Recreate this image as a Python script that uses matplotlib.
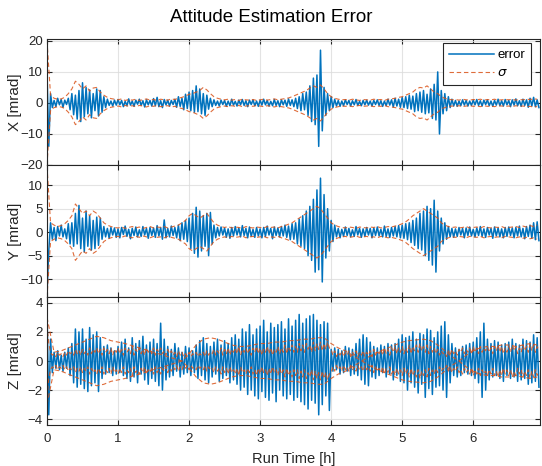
import numpy as np
import matplotlib
matplotlib.use("Agg")
import matplotlib.pyplot as plt

plt.rcParams['font.family'] = ['Liberation Sans', 'DejaVu Sans']

# ---------------- data (mrad) ----------------
dt_err = 0.025   # h, sample step of error series
dt_sig = 0.05    # h, sample step of sigma series (X, Y)
dt_zb = 0.1      # h, sample step of the slow Z sigma curve

x_err = [10, -14, 3, -1.5, 0.8, -1.2, 1.5, -0.6, 1.1, -1.4, 0.9, -0.5, 1.5, -2.2, 3.0, -3.8, 2.5, -5.2, 4.0, -6.0,
         6.5, -4.5, 5.0, -3.5, 4.2, -4.8, 3.0, -2.5, 4.5, -4.2, 4.0, -3.0, 2.0, -1.5, 1.2, -0.8, 0.6, -1.0, 0.9, -0.7,
         1.1, -0.6, 0.8, -1.2, 0.5, -0.9, 1.3, -0.7, 0.6, -1.1, 0.9, -0.4, 1.2, -0.8, 0.7, -1.3, 1.0, -0.6, 0.8, -1.0,
         1.4, -0.9, 1.8, -1.2, 0.7, -1.5, 1.1, -0.6, 0.9, -1.0, 0.8, -0.5, 1.2, -1.4, 2.0, -1.1, 1.5, -2.2, 2.8, -1.8,
         3.5, -2.5, 4.0, -3.0, 5.5, -2.8, 4.5, -3.5, 3.0, -4.0, 2.5, -2.0, 1.5, -1.2, 1.0, -0.8, 0.6, -1.0, 0.9, -0.5,
         0.8, -1.1, 0.6, -0.9, 1.2, -0.7, 0.5, -1.0, 0.9, -0.6, 1.1, -0.8, 0.7, -1.2, 0.9, -0.5, 1.0, -0.9, 0.6, -1.1,
         0.9, -0.7, 1.2, -0.6, 0.8, -1.0, 0.5, -0.9, 1.1, -0.8, 0.7, -1.2, 1.0, -0.6, 0.9, -1.1, 1.3, -0.8, 1.0, -1.2,
         1.5, -1.8, 2.0, -2.5, 3.0, -2.2, 3.5, -4.0, 5.5, -6.0, 8.0, -7.0, 9.0, -14, 17, -9.0, 5.0, -4.0, 3.0, -2.5,
         2.0, -1.5, 1.2, -1.0, 0.8, -1.1, 0.6, -0.9, 1.0, -0.5, 0.8, -1.0, 0.7, -0.6, 1.1, -0.8, 0.5, -0.9, 0.8, -0.6,
         0.9, -0.7, 0.6, -1.0, 0.8, -0.5, 1.0, -0.8, 0.7, -1.1, 0.6, -0.9, 1.2, -0.7, 1.0, -1.3, 1.5, -1.0, 1.2, -1.4,
         1.8, -1.5, 2.0, -1.8, 2.5, -2.0, 2.2, -2.8, 3.0, -2.5, 3.5, -3.0, 4.0, -3.5, 2.8, -3.2, 4.5, -5.0, 6.0, -5.5,
         10.0, -10.0, 4.0, -3.5, 3.0, -2.5, 2.0, -1.5, 1.2, -1.0, 0.8, -1.1, 0.6, -0.9, 1.0, -0.7, 0.8, -1.0, 0.6, -0.8,
         0.9, -0.6, 1.1, -0.8, 0.7, -1.0, 0.9, -0.5, 1.0, -0.9, 0.6, -1.1, 0.8, -0.7, 1.2, -0.9, 0.7, -1.0, 1.1, -0.6,
         0.8, -1.2, 1.0, -0.7, 1.3, -0.9, 0.7, -1.1, 1.2, -0.8, 1.0, -1.4, 1.5, -1.0, 1.8, -1.2, 1.0, -1.5]

x_sig = [20, 2.5, 1.5, 1.2, 1.3, 1.8, 3.0, 4.5, 7.0, 6.0,
         4.5, 5.5, 3.8, 4.8, 5.0, 3.5, 2.5, 1.8, 1.4, 1.2,
         1.0, 1.3, 0.8, 1.1, 0.9, 1.2, 0.8, 1.0, 1.3, 0.9,
         1.1, 0.8, 1.2, 1.0, 0.9, 1.3, 1.1, 1.5, 1.8, 2.2,
         2.8, 3.0, 3.5, 4.0, 5.0, 4.2, 3.0, 2.0, 1.5, 1.2,
         1.0, 1.2, 0.9, 1.1, 0.8, 1.2, 1.0, 0.9, 1.1, 0.8,
         1.0, 1.2, 0.9, 1.1, 1.3, 1.0, 1.2, 1.4, 1.6, 2.0,
         2.5, 3.0, 3.5, 4.0, 4.8, 5.5, 5.0, 5.8, 4.5, 3.0,
         2.0, 1.5, 1.2, 1.0, 1.1, 0.9, 1.2, 1.0, 0.8, 1.1,
         1.0, 0.9, 1.2, 1.0, 1.1, 0.8, 1.2, 1.3, 1.5, 1.8,
         2.0, 2.5, 3.0, 3.5, 4.5, 5.0, 4.8, 5.5, 4.5, 3.5,
         3.0, 2.0, 1.5, 1.2, 1.0, 1.1, 0.9, 1.2, 1.0, 0.9,
         1.1, 1.0, 1.2, 0.9, 1.1, 1.0, 1.2, 0.9, 1.0, 1.1,
         1.0, 1.2, 0.9, 1.1, 1.0, 1.2, 1.1, 1.3, 1.2]

y_err = [-13, -4, 2.0, -1.5, 1.0, -1.8, 1.2, -0.8, 1.5, -1.0, 0.7, -1.4, 1.8, -2.5, 2.0, -3.0, 4.0, -2.5, 5.7, -3.5,
         3.0, -4.2, 4.5, -3.0, 3.5, -3.8, 2.5, -3.5, 3.2, -2.8, 3.0, -1.5, 1.2, -1.0, 0.8, -1.3, 1.0, -0.6, 0.9, -1.1,
         0.7, -1.2, 1.0, -0.5, 1.3, -0.9, 0.6, -1.4, 0.8, -0.7, 1.1, -1.0, 0.5, -0.9, 1.2, -0.6, 0.8, -1.3, 1.0, -0.7,
         0.9, -1.1, 1.4, -0.8, 1.0, -1.5, 2.6, -1.2, 0.8, -1.0, 1.3, -0.7, 1.0, -1.2, 1.5, -1.8, 2.0, -1.5, 2.5, -2.0,
         3.0, -3.5, 4.0, -4.5, 5.3, -5.3, 4.5, -4.0, 3.5, -3.0, 4.0, -5.0, 4.2, -2.5, 1.5, -1.2, 1.0, -0.8, 1.1, -0.6,
         0.9, -1.1, 0.7, -1.3, 1.0, -0.8, 1.2, -0.6, 0.9, -1.0, 1.4, -0.7, 0.8, -1.2, 1.1, -0.9, 0.6, -1.1, 1.0, -0.8,
         0.7, -1.2, 1.0, -0.9, 1.3, -0.6, 0.8, -1.4, 1.1, -0.7, 0.9, -1.0, 1.2, -0.8, 1.5, -1.1, 1.3, -1.6, 1.8, -1.5,
         2.0, -2.5, 2.8, -3.0, 3.5, -3.5, 4.5, -5.0, 5.5, -6.0, 7.0, -8.5, 9.0, -8.0, 11.5, -10.6, 8.0, -5.5, 5.0, -4.0,
         2.5, -2.0, 1.5, -1.0, 0.8, -1.2, 0.6, -0.9, 1.1, -0.7, 0.8, -1.0, 0.5, -0.9, 1.2, -0.6, 0.8, -1.1, 0.7, -0.9,
         1.0, -0.6, 0.8, -1.2, 0.9, -0.7, 1.1, -0.8, 0.6, -1.0, 1.3, -0.9, 0.7, -1.1, 1.0, -0.8, 1.2, -1.0, 1.4, -1.2,
         1.5, -1.3, 1.8, -1.6, 2.0, -2.2, 2.5, -2.8, 3.0, -3.5, 4.0, -3.8, 4.5, -5.0, 5.5, -6.0, 5.0, -7.0, 6.8, -8.5,
         4.5, -4.0, 3.0, -2.5, 2.0, -1.5, 1.2, -1.0, 0.8, -1.1, 0.7, -0.9, 1.0, -0.6, 0.8, -1.2, 0.9, -0.7, 1.1, -0.8,
         0.6, -1.0, 0.9, -0.7, 1.2, -0.9, 0.7, -1.1, 1.0, -0.6, 0.8, -1.3, 1.1, -0.8, 0.9, -1.0, 0.7, -1.2, 1.0, -0.9,
         1.1, -0.7, 0.9, -1.2, 1.0, -0.8, 1.3, -1.0, 0.8, -1.4, 1.2, -0.9, 1.5, -1.3, 2.0, -1.6, 2.2, -1.8]

y_sig = [14, 2.0, 1.5, 1.2, 1.4, 1.8, 2.5, 3.5, 6.0, 5.0,
         4.0, 4.5, 3.5, 4.5, 4.0, 3.0, 2.0, 1.5, 1.2, 1.0,
         0.9, 1.1, 0.8, 1.0, 1.2, 0.9, 1.1, 0.8, 1.0, 1.2,
         0.9, 1.1, 1.0, 1.2, 0.9, 1.1, 1.3, 1.5, 2.0, 2.5,
         3.5, 4.0, 3.5, 3.0, 3.5, 4.0, 3.0, 2.0, 1.5, 1.2,
         1.0, 1.2, 0.9, 1.1, 1.0, 0.8, 1.2, 1.0, 0.9, 1.1,
         1.0, 0.9, 1.2, 1.0, 1.1, 0.9, 1.2, 1.4, 1.7, 2.0,
         2.5, 3.0, 3.5, 4.0, 4.5, 5.0, 5.5, 5.0, 4.0, 3.0,
         2.0, 1.5, 1.2, 1.0, 0.9, 1.1, 1.0, 0.8, 1.1, 1.0,
         0.9, 1.1, 1.0, 1.2, 0.9, 1.0, 1.2, 1.1, 1.3, 1.5,
         1.8, 2.2, 2.8, 3.5, 4.0, 4.5, 5.0, 4.5, 4.0, 3.5,
         3.0, 2.0, 1.5, 1.2, 1.0, 1.1, 0.9, 1.0, 1.2, 0.9,
         1.0, 1.1, 0.9, 1.2, 1.0, 0.9, 1.1, 1.0, 1.2, 0.9,
         1.0, 1.1, 1.2, 1.0, 1.3, 1.1, 1.4, 1.2, 1.5]

z_err = [3.5, -3.7, 1.5, -0.8, 0.6, -0.5, 0.7, -0.6, 0.4, -0.7, 0.6, -0.5, 0.9, -1.0, 1.2, -1.5, 2.2, -1.8, 2.0, -1.6,
         2.2, -1.9, 1.5, -2.1, 2.3, -1.7, 1.8, -1.5, 2.0, -2.1, 1.6, -1.2, 1.0, -0.9, 1.1, -0.8, 0.9, -1.0, 0.7, -0.9,
         1.0, -0.8, 1.3, -1.0, 1.5, -1.2, 0.9, -1.4, 1.6, -1.1, 1.2, -1.5, 1.4, -0.9, 1.7, -1.3, 1.1, -1.6, 1.3, -1.2,
         1.5, -1.4, 1.2, -1.7, 2.6, -2.0, 1.5, -1.3, 1.0, -1.1, 0.8, -1.0, 1.2, -0.7, 0.9, -1.1, 0.6, -0.9, 1.0, -0.8,
         0.9, -1.0, 0.7, -0.8, 1.1, -1.2, 1.4, -1.0, 1.6, -1.3, 1.2, -1.5, 1.0, -1.1, 1.3, -0.9, 1.5, -1.4, 1.1, -1.2,
         1.4, -1.0, 1.2, -1.5, 1.6, -1.3, 1.8, -1.6, 1.5, -2.0, 2.2, -1.8, 2.0, -2.3, 2.5, -2.0, 1.8, -2.4, 2.2, -2.6,
         2.4, -2.1, 2.8, -2.5, 2.0, -2.7, 2.6, -2.2, 2.3, -2.8, 2.5, -2.0, 2.7, -2.4, 2.2, -2.6, 2.9, -2.3, 2.4, -2.7,
         2.8, -2.5, 3.2, -2.8, 2.6, -3.0, 2.9, -3.3, 3.1, -2.7, 3.2, -2.9, 2.8, -3.7, 2.5, -3.0, 2.7, -2.4, 2.6, -3.4,
         0.8, -0.7, 0.9, -0.6, 0.8, -0.9, 0.7, -0.8, 1.0, -0.7, 0.9, -1.0, 0.8, -0.9, 1.2, -1.0, 1.5, -1.3, 1.8, -1.6,
         1.6, -1.7, 1.3, -1.1, 1.0, -1.2, 0.9, -1.0, 1.1, -0.8, 1.0, -1.1, 1.2, -0.9, 1.1, -1.3, 1.2, -1.0, 1.5, -1.4,
         1.8, -1.5, 1.6, -2.0, 1.7, -1.5, 2.0, -1.8, 1.5, -2.2, 1.9, -1.6, 1.8, -2.5, 2.2, -1.9, 2.1, -2.3, 1.6, -1.8,
         2.0, -1.7, 2.4, -2.0, 2.7, -2.5, 1.8, -1.5, 1.2, -1.0, 0.9, -1.1, 0.8, -1.0, 1.0, -0.8, 1.1, -0.9, 1.2, -1.0,
         1.3, -1.2, 1.6, -1.5, 2.0, -2.5, 2.6, -2.0, 1.5, -1.3, 1.2, -1.1, 1.4, -1.0, 1.3, -1.2, 1.1, -1.4, 1.2, -1.0,
         1.3, -1.2, 1.5, -1.1, 1.2, -1.4, 1.1, -1.3, 1.5, -1.2, 1.4, -1.6, 1.3, -1.5, 1.8, -1.4, 1.6, -1.8]

# fast, jittery Z sigma band (plotted as +/-)
z_sig_fast = [2.5, 1.2, 0.6, 0.4, 0.5, 0.3, 0.6, 0.4, 0.5, 0.3, 0.6, 0.4, 0.7, 0.5, 0.6, 0.4, 0.8, 0.5, 0.7, 0.4,
              0.8, 0.5, 0.7, 0.4, 0.9, 0.5, 0.8, 0.6, 0.9, 0.5, 0.8, 0.4, 0.9, 0.6, 0.8, 0.5, 0.9, 0.4, 0.8, 0.6,
              0.9, 0.5, 0.8, 0.4, 0.9, 0.6, 0.8, 0.5, 1.0, 0.4, 0.8, 0.6, 0.9, 0.5, 0.8, 0.4, 0.9, 0.6, 0.8, 0.5,
              0.9, 0.4, 0.8, 0.6, 0.9, 0.5, 0.7, 0.4, 0.8, 0.5, 0.7, 0.4, 0.6, 0.3, 0.7, 0.4, 0.6, 0.3, 0.5, 0.3,
              0.6, 0.3, 0.5, 0.4, 0.6, 0.3, 0.5, 0.4, 0.6, 0.3, 0.7, 0.4, 0.6, 0.5, 0.8, 0.4, 0.7, 0.5, 0.9, 0.4,
              0.8, 0.5, 0.9, 0.4, 0.8, 0.6, 0.9, 0.5, 1.0, 0.4, 0.8, 0.6, 0.9, 0.5, 0.8, 0.4, 0.9, 0.6, 1.0, 0.5,
              0.9, 0.4, 0.8, 0.6, 1.0, 0.5, 0.9, 0.4, 0.8, 0.6, 1.0, 0.5, 0.9, 0.6, 1.1, 0.5, 1.0, 0.7, 1.1, 0.6,
              1.0, 0.6, 1.2, 0.7, 1.1, 0.6, 1.2, 0.8, 1.1, 0.6, 1.3, 0.7, 1.2, 0.8, 1.3, 0.7, 1.2, 0.8, 1.3, 0.9,
              0.8, 0.4, 0.7, 0.3, 0.6, 0.4, 0.7, 0.3, 0.6, 0.4, 0.7, 0.3, 0.6, 0.4, 0.7, 0.3, 0.6, 0.4, 0.7, 0.3,
              0.6, 0.4, 0.7, 0.3, 0.8, 0.4, 0.7, 0.5, 0.8, 0.4, 0.9, 0.5, 0.8, 0.4, 0.9, 0.6, 1.0, 0.5, 0.9, 0.6,
              1.0, 0.5, 0.9, 0.6, 1.1, 0.5, 1.0, 0.7, 1.1, 0.6, 1.2, 0.7, 1.0, 0.6, 1.1, 0.5, 1.0, 0.6, 0.9, 0.5,
              0.8, 0.4, 0.7, 0.5, 0.6, 0.3, 0.7, 0.4, 0.8, 0.5, 0.7, 0.4, 0.8, 0.6, 0.9, 0.5, 0.8, 0.6, 0.9, 0.5,
              1.0, 0.6, 0.9, 0.5, 1.0, 0.6, 0.9, 0.7, 1.0, 0.6, 0.9, 0.5, 1.0, 0.7, 1.1, 0.6, 1.0, 0.5, 0.9, 0.6,
              1.0, 0.6, 1.1, 0.7, 1.0, 0.5, 0.9, 0.6, 1.1, 0.7, 1.0, 0.6, 1.2, 0.7, 1.1, 0.6, 1.0, 0.7]

# slow Z sigma curve (plotted as +/-)
z_sig_slow = [3.0, 0.6, 0.7, 0.9, 1.1, 1.3, 1.5, 1.7, 1.6, 1.4,
              1.3, 1.2, 1.05, 0.9, 0.75, 0.6, 0.45, 0.3, 0.15, 0.0,
              -0.5, -1.1, -1.5, -1.6, -1.5, -1.3, -1.1, -1.0, -1.0, -1.1,
              -1.2, -1.2, -1.3, -1.3, -1.4, -1.4, -1.5, -1.5, -1.6, -1.6,
              -1.2, -0.9, -0.7, -0.4, -0.1, 0.2, 0.5, 0.7, 0.9, 1.1,
              1.3, 1.4, 1.45, 1.5, 1.4, 1.1, 0.7, 0.3, 0.0, -0.4,
              -0.7, -0.9, -1.0, -1.0, -1.1, -1.1, -1.0, -1.1, -1.2, -1.1]

xticks = [0, 1, 2, 3, 4, 5, 6]
yticks_x = [-20, -10, 0, 10, 20]
yticks_y = [-10, -5, 0, 5, 10]
yticks_z = [-4, -2, 0, 2, 4]
ylims = [(-20, 20.6), (-13.8, 14.3), (-4.4, 4.4)]
ylabels = ['X [mrad]', 'Y [mrad]', 'Z [mrad]']

BLUE = '#0072BD'
ORANGE = '#D95319'
DARK = '#262626'

def tgrid(arr, dt):
    return np.arange(len(arr)) * dt

fig = plt.figure(figsize=(5.42, 4.66), dpi=100)
fig.patch.set_facecolor('white')

W = 542.0
H = 466.0
left = 47 / W
width = (540 - 47) / W
rows = [(39, 165), (165, 297), (297, 425)]
axes = []
for (top, bot) in rows:
    ax = fig.add_axes([left, 1 - bot / H, width, (bot - top) / H])
    axes.append(ax)

def style(ax, yt, yl, lab, show_x):
    ax.set_xlim(0, 6.94)
    ax.set_ylim(*yl)
    ax.set_xticks(xticks)
    ax.set_yticks(yt)
    ax.grid(True, color='#dcdcdc', linewidth=0.8, alpha=0.8)
    ax.set_axisbelow(True)
    ax.tick_params(direction='in', length=3.5, width=0.8, colors=DARK,
                   labelsize=9.5, top=True, right=True, pad=3)
    ax.tick_params(axis='x', pad=6)
    for s in ax.spines.values():
        s.set_color(DARK)
        s.set_linewidth(0.8)
    if not show_x:
        ax.set_xticklabels([])
    ax.set_ylabel(lab, fontsize=11, color=DARK)
    ax.yaxis.set_label_coords(-0.05, 0.5)

lw_e = 1.1
lw_s = 0.8
dash = (4, 2.5)
sig_kw = dict(color=ORANGE, lw=lw_s, ls='--', dashes=dash, alpha=0.85)

# X
ax = axes[0]
te = tgrid(x_err, dt_err)
ts = tgrid(x_sig, dt_sig)
le, = ax.plot(te, x_err, color=BLUE, lw=lw_e, label='error')
ls, = ax.plot(ts, np.array(x_sig), label=r'$\sigma$', **sig_kw)
ax.plot(ts, -np.array(x_sig), **sig_kw)
style(ax, yticks_x, ylims[0], ylabels[0], False)
leg = ax.legend(handles=[le, ls], loc='upper right', fontsize=9.5, handlelength=3.4,
                frameon=True, fancybox=False, edgecolor=DARK, framealpha=1,
                borderpad=0.45, labelspacing=0.45, handletextpad=0.25,
                borderaxespad=0, bbox_to_anchor=(0.982, 0.968))
leg.get_frame().set_linewidth(0.8)

# Y
ax = axes[1]
te = tgrid(y_err, dt_err)
ts = tgrid(y_sig, dt_sig)
ax.plot(te, y_err, color=BLUE, lw=lw_e)
ax.plot(ts, np.array(y_sig), **sig_kw)
ax.plot(ts, -np.array(y_sig), **sig_kw)
style(ax, yticks_y, ylims[1], ylabels[1], False)

# Z
ax = axes[2]
te = tgrid(z_err, dt_err)
tf = tgrid(z_sig_fast, dt_err)
tsl = tgrid(z_sig_slow, dt_zb)
ax.plot(te, z_err, color=BLUE, lw=lw_e)
ax.plot(tf, np.array(z_sig_fast), **sig_kw)
ax.plot(tf, -np.array(z_sig_fast), **sig_kw)
ax.plot(tsl, np.array(z_sig_slow), **sig_kw)
ax.plot(tsl, -np.array(z_sig_slow), **sig_kw)
style(ax, yticks_z, ylims[2], ylabels[2], True)
ax.set_xlabel('Run Time [h]', fontsize=10.5, color=DARK, labelpad=5)

fig.text(0.5, 1 - 18 / H, 'Attitude Estimation Error', ha='center', va='center',
         fontsize=13.5, color='black')

fig.savefig('out.png', dpi=100, facecolor='white')
